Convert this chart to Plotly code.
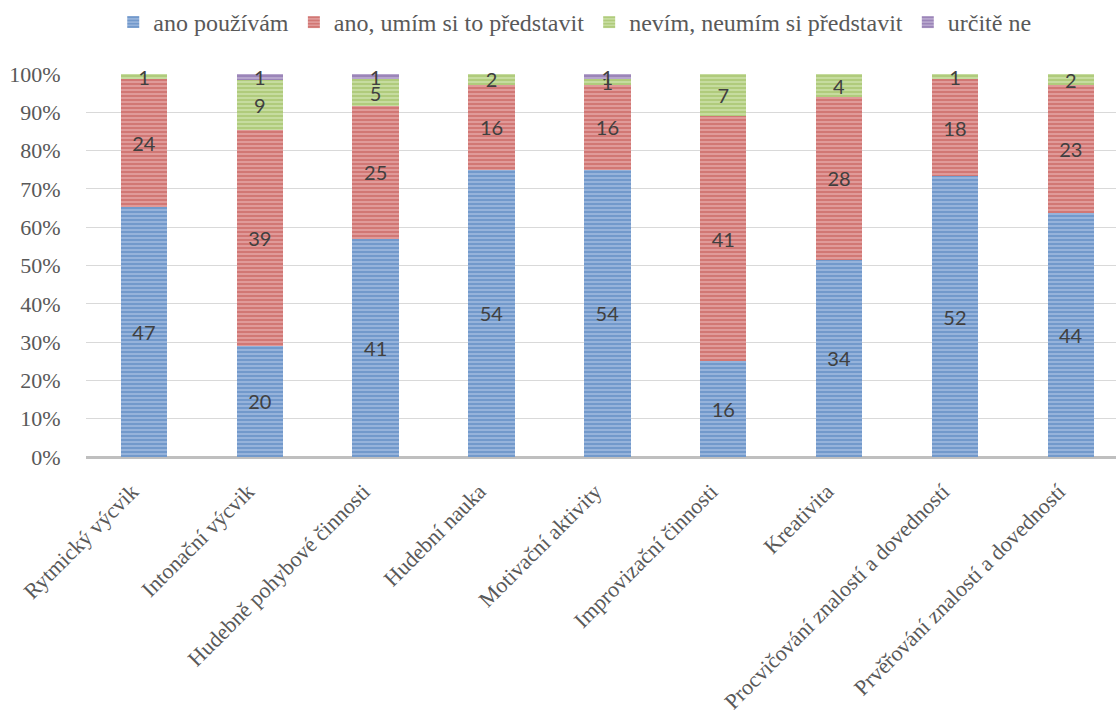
import plotly.graph_objects as go

categories = ["Rytmický výcvik", "Intonační výcvik", "Hudebně pohybové činnosti",
              "Hudební nauka", "Motivační aktivity", "Improvizační činnosti",
              "Kreativita", "Procvičování znalostí a dovedností",
              "Prvěřování znalostí a dovedností"]
ano_pouzivam = [47, 20, 41, 54, 54, 16, 34, 52, 44]
ano_umim = [24, 39, 25, 16, 16, 41, 28, 18, 23]
nevim = [1, 9, 5, 2, 1, 7, 4, 1, 2]
urcite_ne = [0, 1, 1, 0, 1, 0, 0, 0, 0]

series = [
    ("ano používám", ano_pouzivam, "#4677B8", "#9FBADF"),
    ("ano, umím si to představit", ano_umim, "#BF4B48", "#E3A3A1"),
    ("nevím, neumím si představit", nevim, "#93B650", "#CCE0A8"),
    ("určitě ne", urcite_ne, "#7A5C9E", "#BDAED3"),
]

SERIF = "Liberation Serif"

fig = go.Figure()
for name, vals, fg, bg in series:
    fig.add_trace(go.Bar(
        x=categories, y=vals, name=name,
        marker=dict(color=bg, line=dict(width=0),
                    pattern=dict(shape="-", fgcolor=fg, bgcolor=bg, size=4, solidity=0.6)),
        text=[str(v) if v > 0 else "" for v in vals],
        textposition="inside", insidetextanchor="middle", textangle=0,
        constraintext="none",
        textfont=dict(family="Lato", size=20, color="#404040"),
        cliponaxis=False,
    ))

fig.update_layout(
    barmode="stack", barnorm="percent", bargap=0.6,
    width=1116, height=721,
    margin=dict(l=86, r=0, t=74, b=264),
    plot_bgcolor="white", paper_bgcolor="white",
    font=dict(family=SERIF, size=22, color="#595959"),
    uniformtext=dict(mode="show", minsize=20),
    legend=dict(orientation="h", x=0.515, xref="container", xanchor="center",
                y=1.0, yref="container", yanchor="top", traceorder="normal",
                font=dict(family=SERIF, size=24, color="#595959"),
                itemwidth=30, itemsizing="constant"),
    showlegend=True,
)
fig.update_xaxes(range=[-0.5, 8.39], tickangle=-45,
                 tickfont=dict(family=SERIF, size=22, color="#595959"),
                 showline=False, ticks="outside", ticklen=12, tickcolor="rgba(0,0,0,0)",
                 ticklabelshift=-12, zeroline=False)
fig.update_yaxes(range=[0, 100], dtick=10, ticksuffix="%",
                 tickfont=dict(family=SERIF, size=22, color="#595959"),
                 showgrid=True, gridcolor="#D9D9D9", gridwidth=1,
                 zeroline=True, zerolinecolor="#BFBFBF", zerolinewidth=3,
                 ticks="outside", ticklen=20, tickcolor="rgba(0,0,0,0)")
fig.write_html("out.html")
